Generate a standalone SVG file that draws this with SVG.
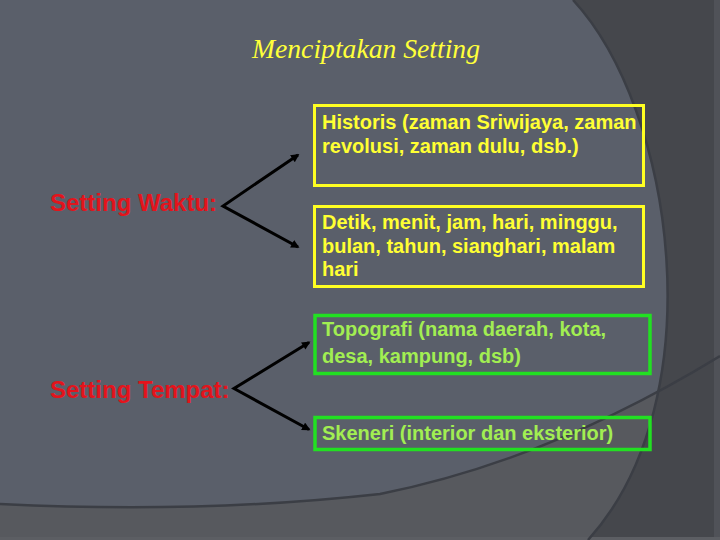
<svg xmlns="http://www.w3.org/2000/svg" width="720" height="540" viewBox="0 0 720 540">
  <style>
    .lbl { font-family: "Liberation Sans", Arial, sans-serif; font-weight: bold; }
    .red { fill: #e3141c; font-size: 24px; }
    .yt { fill: #ffff33; font-size: 20px; }
    .gt { fill: #a2ee52; font-size: 20px; }
    .ybox { fill: none; stroke: #ffff22; stroke-width: 3; }
    .gbox { fill: none; stroke: #22e022; stroke-width: 3.5; }
    .conn { fill: none; stroke: #000; stroke-width: 3; stroke-linejoin: miter; }
    .bgline { fill: none; stroke: #3b3e45; stroke-width: 2.5; }
  </style>
  <defs>
    <marker id="ah" viewBox="0 0 10 10" refX="8" refY="5" markerWidth="3" markerHeight="2.8" orient="auto-start-reverse" markerUnits="strokeWidth">
      <path d="M0,0 L10,5 L0,10 z" fill="#000"/>
    </marker>
  </defs>

  <g id="background">
    <rect x="0" y="0" width="720" height="540" fill="#5a5f6a"/>
    <path d="M0,504 Q200,514 380,494 Q550,460 720,356 L720,540 L0,540 Z" fill="#57595e"/>
    <path d="M573,0 C675,110 715,400 588,540 L720,540 L720,0 Z" fill="#45474c"/>
    <rect x="714" y="0" width="6" height="540" fill="#505258"/>
    <rect x="0" y="537" width="720" height="3" fill="#5c5e63"/>
    <path class="bgline" d="M0,504 Q200,514 380,494 Q550,460 720,356"/>
    <path class="bgline" d="M573,0 C675,110 715,400 588,540"/>
  </g>

  <g id="title">
    <text x="252" y="58" font-family="'Liberation Serif', 'DejaVu Serif', serif" font-style="italic" font-size="28" fill="#ffff3a" textLength="228" lengthAdjust="spacingAndGlyphs">Menciptakan Setting</text>
  </g>

  <g id="setting-waktu">
    <text class="lbl red" x="50" y="211">Setting Waktu:</text>
  </g>
  <g id="setting-tempat">
    <text class="lbl red" x="50" y="398">Setting Tempat:</text>
  </g>

  <g id="historis">
    <rect class="ybox" x="314.5" y="105.5" width="329" height="80"/>
    <text class="lbl yt" x="322" y="129">Historis (zaman Sriwijaya, zaman</text>
    <text class="lbl yt" x="322" y="152.5">revolusi, zaman dulu, dsb.)</text>
  </g>

  <g id="detik">
    <rect class="ybox" x="314.5" y="206.5" width="329" height="80"/>
    <text class="lbl yt" x="322" y="228.5">Detik, menit, jam, hari, minggu,</text>
    <text class="lbl yt" x="322" y="252.5">bulan, tahun, sianghari, malam</text>
    <text class="lbl yt" x="322" y="276">hari</text>
  </g>

  <g id="topografi">
    <rect class="gbox" x="315" y="315.5" width="335" height="58"/>
    <text class="lbl gt" x="322" y="336">Topografi (nama daerah, kota,</text>
    <text class="lbl gt" x="322" y="362.5">desa, kampung, dsb)</text>
  </g>

  <g id="skeneri">
    <rect class="gbox" x="315" y="417.5" width="335" height="32"/>
    <text class="lbl gt" x="322" y="439.5">Skeneri (interior dan eksterior)</text>
  </g>

  <g id="connectors">
    <path class="conn" d="M298,155 L223,206 L298,247" marker-start="url(#ah)" marker-end="url(#ah)"/>
    <path class="conn" d="M309,342.5 L234,388.5 L309,429.5" marker-start="url(#ah)" marker-end="url(#ah)"/>
  </g>
</svg>
